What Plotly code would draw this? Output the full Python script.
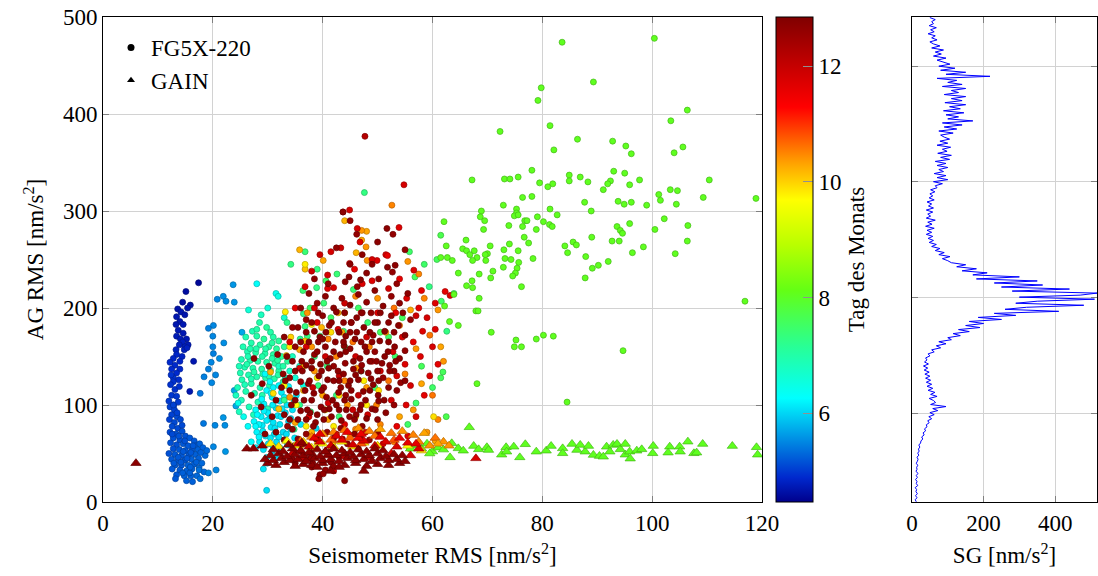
import plotly.graph_objects as go
import numpy as np

FONT = "Liberation Serif"
FS = 23

# ---------------- FG5X-220 circles: (seismometer RMS, AG RMS, day) ----------------
fg_blue_upper = [
    (17.4,226,4.55),(15.1,217,4.6),(14.5,206,4.6),(15.9,203,4.62),(15.4,200,4.65),(13.6,199,4.65),
    (14.2,196,4.7),(13.4,191,4.7),(14.9,193,4.68),(14.0,186,4.7),(14.6,183,4.72),(13.3,183,4.7),
    (13.7,177,4.72),(14.6,174,4.72),(13.4,171,4.75),(14.1,168,4.75),(15.2,168,4.72),(14.5,165,4.78),
    (15.5,162,4.75),(14.9,160,4.8),(13.9,162,4.78),(13.3,157,4.8),(14.8,157,4.8),(15.3,159,4.8),
    (14.4,150,4.82),(13.4,152,4.85),(12.8,148,4.85),(14.0,145,4.85),(16.5,145,4.7),(12.2,144,4.9),
    (13.1,141,4.9),(12.5,137,4.9),(14.0,137,4.88),(13.4,133,4.9),(12.8,128,4.95),(13.8,126,4.92),
    (12.8,124,4.95),(12.3,121,4.95),(13.1,116,4.95),(15.8,114,4.7),(12.5,110,4.98),(13.4,109,4.98),
    (12.0,104,5.0),(12.9,100,5.0),(13.7,103,5.0),(12.4,131,4.95),(13.9,119,4.95),
]
fg_blue_lower = [
    (12.2,98,5.05),(13.0,95,5.05),(12.5,90,5.05),(13.5,88,5.1),(12.1,85,5.05),(13.0,82,5.1),(14.1,85,5.1),
    (12.6,78,5.1),(13.6,76,5.1),(12.2,72,5.1),(13.3,70,5.15),(14.4,73,5.15),(15.0,68,5.15),(12.8,66,5.15),
    (14.0,64,5.15),(15.8,66,5.2),(16.6,63,5.2),(12.3,61,5.15),(13.4,59,5.15),(14.6,60,5.2),(15.5,58,5.2),
    (16.9,58,5.2),(17.6,60,5.25),(12.8,55,5.15),(13.9,54,5.2),(15.0,53,5.2),(16.2,53,5.2),(17.3,54,5.25),
    (18.2,56,5.25),(12.0,50,5.15),(13.1,49,5.2),(14.3,48,5.2),(15.6,48,5.2),(16.8,49,5.25),(12.5,44,5.2),
    (13.7,43,5.2),(14.9,43,5.2),(16.1,44,5.25),(17.4,45,5.25),(18.6,48,5.3),(13.1,38,5.2),(14.3,38,5.2),
    (15.5,38,5.25),(16.6,39,5.25),(12.6,34,5.2),(14.0,33,5.2),(15.2,32,5.25),(16.2,34,5.25),(17.5,35,5.3),
    (13.4,28,5.2),(14.8,27,5.25),(16.0,27,5.25),(15.2,22,5.25),(16.3,21,5.25),(13.2,24,5.2),(18.4,31,5.3),
    (17.1,27,5.3),(14.5,30,5.25),(15.8,30,5.25),(13.7,46,5.2),(12.9,40,5.2),(14.6,52,5.2),(15.3,45,5.2),
    (16.4,58,5.2),(14.9,63,5.15),(13.8,68,5.15),(12.6,70,5.1),(17.0,41,5.25),(15.9,36,5.25),(14.2,41,5.2),
    (13.5,92,5.05),(12.8,100,5.05),(14.4,79,5.1),(16.0,51,5.2),(17.8,51,5.25),(18.9,53,5.3),(18.0,40,5.3),
]
fg_lightblue = [
    (23.7,224,5.6),(20.8,209,5.5),(21.9,212,5.55),(22.4,207,5.55),(23.9,206,5.6),(20.1,182,5.5),
    (19.2,179,5.45),(22.0,164,5.55),(25.3,175,5.7),(20.0,171,5.5),(20.1,153,5.45),(19.7,144,5.5),
    (21.2,148,5.55),(19.2,137,5.45),(20.5,131,5.5),(19.8,123,5.5),(18.4,129,5.45),(17.7,112,5.4),
    (23.9,115,5.7),(24.2,99,5.7),(18.3,81,5.4),(20.4,79,5.5),(22.2,79,5.55),(20.1,57,5.5),(19.2,30,5.45),
    (20.6,33,5.5),(17.5,33,5.35),(17.7,24,5.35),(21.9,87,5.6),(22.3,52,5.6),(20.0,160,5.5),
]
fg_teal = [
    (28.5,185,7.0),(29.8,180,7.1),(27.2,176,6.9),(30.5,175,7.0),(26.0,170,6.9),(28.0,171,7.0),(29.3,168,7.1),
    (31.0,170,7.0),(32.0,166,7.1),(27.0,164,6.95),(25.5,160,6.9),(28.6,162,7.0),(30.2,160,7.05),(31.6,158,7.1),
    (33.0,160,7.1),(26.3,155,6.9),(27.8,154,7.0),(29.5,153,7.0),(31.0,152,7.05),(32.5,150,7.1),(25.2,147,6.9),
    (26.8,146,6.95),(28.2,145,7.0),(29.8,144,7.0),(31.3,143,7.05),(33.6,145,7.1),(25.8,139,6.9),(27.3,138,6.95),
    (28.9,137,7.0),(30.5,136,7.0),(32.0,135,7.05),(26.5,131,6.9),(28.0,129,6.95),(29.6,128,7.0),(31.2,127,7.0),
    (25.3,126,6.9),(27.0,122,6.95),(30.3,120,7.0),(32.8,124,7.05),(24.5,118,6.85),(26.0,114,6.9),(27.6,112,6.9),
    (29.0,110,6.95),(25.2,105,6.85),(28.2,103,6.9),(26.6,98,6.85),(30.0,96,6.9),(24.8,93,6.8),(27.4,90,6.85),
    (34.0,135,6.7),(35.0,128,6.6),(34.5,150,6.8),(35.8,140,6.7),(33.2,128,6.75),(34.8,105,6.6),(36.5,120,6.5),
    (32.0,140,6.8),(26.4,150,6.9),(27.9,158,6.95),(29.1,132,7.0),(30.8,148,7.0),(25.0,133,6.9),(24.2,110,6.8),
    (28.0,225,6.3),(31.5,215,6.4),(31.9,212,6.5),(26.5,198,6.6),(28.8,193,6.8),(33.0,190,6.7),(30.0,200,6.6),
    (26.2,142,6.95),(27.5,134,7.0),(29.0,150,7.0),(30.2,130,6.95),(31.8,146,7.05),(27.0,127,6.9),(28.6,118,6.9),
    (25.8,121,6.85),(30.8,164,7.05),(28.0,178,7.0),(26.8,158,6.95),(29.6,158,7.0),(32.8,140,7.0),(24.8,140,6.85),
    (31.9,131,7.0),
]
fg_cyan = [
    (29.5,132,6.3),(31.0,118,6.2),(32.5,113,6.15),(33.8,119,6.2),(29.8,115,6.25),(30.8,108,6.15),(32.2,104,6.1),
    (33.5,100,6.1),(29.3,101,6.2),(31.5,97,6.1),(27.8,95,6.3),(28.8,88,6.2),(30.3,86,6.1),(31.8,89,6.1),
    (33.2,92,6.05),(34.5,95,6.1),(27.5,83,6.25),(29.0,79,6.15),(30.6,77,6.1),(32.2,80,6.1),(33.8,83,6.05),
    (28.0,72,6.2),(29.6,68,6.15),(31.2,70,6.1),(32.8,72,6.05),(34.2,75,6.1),(28.5,62,6.15),(30.1,60,6.1),
    (31.6,62,6.05),(33.0,64,6.1),(29.2,54,6.1),(30.8,52,6.05),(32.2,56,6.1),(27.8,56,6.2),(31.5,45,6.05),
    (29.8,46,6.1),(29.2,34,6.1),(29.8,12,6.05),(34.9,66,6.1),(36.0,80,6.1),(38.8,76,6.05),(35.2,110,6.15),
    (26.4,78,6.3),(25.6,88,6.4),(24.6,102,6.45),(27.0,62,6.3),(28.4,80,6.2),(30.0,92,6.15),(31.0,82,6.1),
    (32.6,96,6.1),(28.9,106,6.25),(30.4,124,6.3),(33.0,108,6.15),
    (29.3,94,6.2),(30.9,100,6.15),(32.4,88,6.1),(28.1,90,6.25),(29.8,84,6.15),(31.3,76,6.1),(27.8,78,6.25),
    (33.4,70,6.05),(29.1,73,6.15),(30.5,66,6.1),(32.0,67,6.1),(28.4,67,6.2),(31.0,57,6.05),(33.6,59,6.05),
    (29.9,40,6.1),(30.6,112,6.2),(32.0,120,6.25),(34.2,86,6.1),
]
fg_green_scatter = [
    (34.2,245,7.3),(36.4,218,7.4),(38.9,221,7.3),(40.6,228,7.5),(42.6,235,7.4),(36.5,194,7.3),(37.7,200,7.5),
    (36.8,181,7.3),(45.6,219,7.4),(35.9,168,7.2),(37.2,171,7.3),(39.5,171,7.4),(37.8,93,7.3),(45.1,69,7.5),
    (33.5,185,7.2),(40.2,205,7.4),(41.5,190,7.5),(43.8,176,7.4),(46.5,200,7.5),(48.2,185,7.4),(50.5,175,7.6),
    (38.5,150,7.3),(40.8,140,7.4),(44.0,160,7.5),(52.0,170,7.5),(54.5,190,7.6),(47.6,319,7.3),(59.4,222,7.3),
    (63.9,215,7.5),(56.8,232,7.6),(58.5,245,7.5),(60.8,250,7.6),(61.5,275,7.7),(55.8,258,7.5),(42.5,110,7.3),
    (35.8,100,7.2),(39.2,120,7.3),(47.0,135,7.4),(53.2,150,7.5),(58.0,140,7.6),(60.0,118,7.5),(61.5,128,7.6),
    (57.0,102,7.5),(62.5,88,7.7),(55.5,80,7.5),(33.0,105,7.2),(34.8,75,7.2),(43.0,88,7.4),(49.5,118,7.4),
    (36.8,258,7.4),(39.0,240,7.3),(61.6,207,7.5),(62.6,176,7.3),(61.9,134,7.6),
]
fg_orange = [
    (52.6,306,10.5),(47.1,270,10.3),(47.9,263,10.4),(46.1,257,10.2),(48.1,249,10.4),(40.1,249,10.3),(36.8,240,10.1),
    (48.0,279,10.3),(47.1,280,10.4),(35.8,260,10.2),(34.2,170,10.0),(36.8,166,10.1),(35.8,157,10.3),(33.4,151,10.2),
    (38.0,160,10.4),(41.0,168,10.5),(43.5,175,10.3),(45.5,165,10.6),(39.8,180,10.2),(37.2,195,10.4),(42.8,195,10.3),
    (46.0,212,10.5),(50.0,210,10.4),(53.0,200,10.6),(56.0,198,10.3),(58.5,210,10.5),(61.0,198,10.4),(59.5,172,10.6),
    (61.5,160,10.3),(57.0,158,10.4),(55.0,132,10.5),(58.0,122,10.3),(60.0,110,10.6),(56.5,95,10.4),(54.0,88,10.3),
    (50.5,80,10.5),(48.0,118,10.4),(52.0,125,10.6),(44.0,125,10.5),(40.0,110,10.3),(36.5,115,10.2),(34.0,108,10.4),
    (32.0,96,10.1),(35.0,82,10.3),(38.0,72,10.2),(42.0,62,10.4),(46.0,75,10.5),(50.0,58,10.3),(53.0,62,10.6),
    (44.5,100,10.4),(48.5,160,10.5),(51.5,175,10.3),(54.0,182,10.6),(57.5,235,10.5),(55.5,248,10.4),(44.0,290,10.2),
    (62.0,145,10.4),(61.0,85,10.5),(59.0,72,10.4),(60.5,63,10.3),(55.8,55,10.2),(30.5,134,10.2),(38.5,135,10.4),
    (42.5,150,10.5),(46.2,138,10.4),(49.8,100,10.5),(41.0,85,10.3),(36.0,58,10.2),
]
fg_yellow = [
    (34.0,160,9.8),(33.0,120,9.7),(36.5,140,9.9),(39.0,128,9.8),(35.2,100,9.7),(37.0,78,9.8),(41.5,175,9.9),
    (44.0,195,9.8),(40.5,95,9.7),(43.0,110,9.9),(47.5,125,9.8),(46.0,88,9.9),(38.0,183,9.7),(33.2,196,9.8),
    (36.8,245,9.8),(50.2,115,9.9),(42.0,78,9.8),(39.0,60,9.7),(45.0,68,9.9),(31.0,112,9.9),(48.0,100,9.8),
    (60.2,88,9.9),
]
fg_red = [
    (47.7,377,12.2),(54.8,327,11.8),(43.7,299,12.0),(44.9,301,11.8),(46.3,282,11.8),(53.9,283,11.7),(43.3,262,11.9),
    (49.9,249,11.7),(51.5,255,11.8),(51.8,254,11.6),(44.9,246,11.7),(40.9,234,11.8),(40.9,220,11.7),(42.0,221,11.8),
    (56.6,239,11.7),(62.3,217,11.6),(63.2,213,11.7),(47.2,225,11.7),(38.0,238,11.9),(41.5,258,11.8),(45.8,240,11.6),
    (49.0,228,11.7),(52.0,220,11.8),(55.3,210,11.7),(57.5,200,11.6),(59.0,190,11.8),(58.2,176,11.7),(56.5,165,11.6),
    (60.0,160,11.8),(57.8,150,11.7),(61.0,142,11.6),(59.5,130,11.7),(56.0,120,11.8),(58.5,110,11.6),(55.2,100,11.7),
    (57.0,88,11.8),(53.5,78,11.6),(55.5,68,11.7),(51.0,60,11.8),(48.2,90,11.9),(46.5,110,12.0),(50.5,135,11.9),
    (52.8,155,11.8),(48.0,170,11.9),(45.2,185,11.8),(42.8,178,11.9),(39.0,185,11.7),(37.0,160,11.8),(35.8,138,11.7),
    (38.2,118,11.9),(41.0,102,11.8),(44.0,80,11.7),(47.8,72,11.8),(42.5,70,11.9),(39.0,66,11.8),(37.5,88,11.7),
    (35.0,200,11.6),(34.0,165,11.7),(36.8,222,11.8),(50.0,195,11.7),(53.3,195,11.6),(54.5,170,11.8),(57.0,192,11.9),
    (60.5,205,11.7),(46.0,150,11.9),(43.0,130,12.0),(49.0,145,11.9),(53.5,130,11.8),(55.0,142,11.7),(52.5,105,11.8),
    (45.5,95,11.9),(40.5,150,11.9),(38.5,200,11.8),(44.0,205,11.9),(47.0,195,11.7),(58.0,218,11.6),(60.5,178,11.7),
    (54.0,230,11.6),(49.0,250,11.8),(46.8,268,11.7),(39.5,255,11.9),(42.0,32,11.8),
]
fg_darkred = [
    (42.5,262,12.6),(47.2,255,12.7),(51.8,242,12.7),(52.7,237,12.6),(53.2,244,12.7),(46.2,276,12.6),(51.7,282,12.7),
    (52.8,276,12.6),(44.1,227,12.7),(46.9,229,12.7),(46.3,222,12.6),(48.0,236,12.7),(55.0,260,12.6),(50.0,268,12.7),
    (45.0,290,12.6),(43.7,299,12.7),
    (37.5,215,12.7),(39.0,205,12.6),(40.5,212,12.7),(42.0,200,12.7),(43.5,210,12.6),(45.0,203,12.7),(46.5,214,12.7),
    (48.0,206,12.6),(49.5,218,12.7),(51.0,202,12.7),(52.5,212,12.6),(54.0,205,12.7),(55.5,215,12.7),(41.0,225,12.6),
    (44.8,232,12.7),(50.2,230,12.7),(53.5,225,12.6),(38.5,230,12.7),
    (35.5,180,12.7),(37.0,188,12.6),(38.5,176,12.7),(40.0,192,12.7),(41.2,182,12.6),(42.5,196,12.7),(43.8,185,12.7),
    (45.0,175,12.6),(46.2,190,12.7),(47.5,180,12.7),(48.8,195,12.6),(50.0,185,12.7),(51.3,176,12.7),(52.5,192,12.6),
    (53.8,182,12.7),(55.0,172,12.7),(56.0,188,12.6),(39.5,170,12.7),(44.2,171,12.7),(49.2,172,12.6),
    (33.5,150,12.7),(35.0,160,12.6),(36.2,145,12.7),(37.5,165,12.7),(38.5,152,12.6),(39.6,142,12.7),(40.5,160,12.7),
    (41.4,148,12.6),(42.3,165,12.7),(43.2,152,12.7),(44.1,143,12.6),(45.0,158,12.7),(45.9,168,12.7),(46.8,148,12.6),
    (47.7,160,12.7),(48.6,145,12.7),(49.5,155,12.6),(50.4,166,12.7),(51.3,150,12.7),(52.2,141,12.6),(53.1,160,12.7),
    (54.0,148,12.7),(55.0,156,12.6),(40.0,168,12.7),(43.9,161,12.7),(47.1,141,12.6),(50.8,143,12.7),(37.0,141,12.7),
    (42.0,140,12.6),
    (32.5,118,12.7),(34.0,128,12.6),(35.2,113,12.7),(36.3,135,12.7),(37.4,122,12.6),(38.4,112,12.7),(39.3,130,12.7),
    (40.2,118,12.6),(41.1,138,12.7),(42.0,125,12.7),(42.9,113,12.6),(43.8,132,12.7),(44.7,120,12.7),(45.6,137,12.6),
    (46.5,126,12.7),(47.4,114,12.7),(48.3,133,12.6),(49.2,121,12.7),(50.1,110,12.7),(51.0,128,12.6),(52.0,118,12.7),
    (53.0,135,12.7),(54.2,123,12.6),(38.0,138,12.7),(40.9,126,12.7),(44.2,110,12.6),(46.0,131,12.7),(48.8,127,12.7),
    (36.0,124,12.6),(43.3,118,12.7),
    (33.0,90,12.7),(34.3,100,12.6),(35.5,85,12.7),(36.6,105,12.7),(37.7,92,12.6),(38.7,82,12.7),(39.7,98,12.7),
    (40.7,108,12.6),(41.6,88,12.7),(42.5,100,12.7),(43.4,84,12.6),(44.3,95,12.7),(45.2,106,12.7),(46.1,90,12.6),
    (47.0,100,12.7),(48.0,86,12.7),(49.0,96,12.6),(50.2,104,12.7),(51.5,92,12.7),(53.0,100,12.6),(36.0,94,12.7),
    (39.0,90,12.7),(44.9,88,12.6),(41.2,96,12.7),
    (31.5,72,12.7),(33.0,64,12.6),(34.5,75,12.7),(35.8,60,12.7),(37.0,70,12.6),(38.3,78,12.7),(39.5,62,12.7),
    (40.8,72,12.6),(42.0,66,12.7),(43.3,76,12.7),(44.5,60,12.6),(45.8,70,12.7),(47.2,78,12.7),(48.5,64,12.6),
    (50.0,72,12.7),(36.0,52,12.7),(41.5,55,12.6),(46.5,55,12.7),
    (38.0,36,12.7),(39.5,28,12.6),(41.5,41,12.7),(44.0,22,12.7),(40.5,33,12.6),(43.0,46,12.7),(34.5,44,12.7),
    (39.3,24,12.7),(40.1,29,12.6),(38.2,40,12.7),
    (27.5,148,12.7),(29.0,122,12.6),(30.2,140,12.7),(31.5,105,12.7),(32.8,132,12.6),(28.8,98,12.7),(30.8,88,12.7),
    (33.6,78,12.6),(29.5,70,12.7),(34.8,58,12.7),(31.8,152,12.6),(27.0,110,12.7),(33.0,170,12.7),(34.5,180,12.6),
    (36.0,200,12.7),(36.5,60,12.7),(37.8,45,12.6),(35.0,40,12.7),
]
fg_darkred_core = [
    (37.2,95),(40.3,95),(43.0,95),(46.8,95),(49.6,95),(35.0,105),(38.0,105),(41.8,105),(44.0,105),(47.8,105),
    (51.2,105),(34.0,115),(36.8,115),(39.8,115),(45.2,115),(48.6,115),(53.5,115),(33.2,125),(37.6,125),(43.0,125),
    (45.0,125),(50.2,125),(55.0,125),(35.0,135),(39.8,135),(42.8,135),(47.0,135),(50.0,135),(52.2,135),(34.5,145),
    (38.0,145),(40.8,145),(45.6,145),(49.8,145),(53.3,145),(36.5,155),(39.0,155),(42.0,155),(44.2,155),(48.0,155),
    (51.9,155),(36.0,165),(39.2,165),(43.8,165),(47.0,165),(49.0,165),(52.0,165),(37.0,175),(40.6,175),(43.0,175),
    (46.2,175),(48.6,175),(53.0,175),(38.0,185),(41.6,185),(45.2,185),(49.5,185),(52.0,185),(39.2,195),(44.0,195),
    (47.2,195),(50.5,195),(54.6,195),(34.0,85),(37.0,85),(40.2,85),(45.8,85),(50.0,85),(35.5,65),(38.8,65),
    (43.6,65),(47.0,65),(45.0,245),(49.0,245),
]
darkred_core_day = 12.7
fg_green_cluster = [
    (83.6,474),(100.4,478),(79.8,427),(89.3,433),(79.2,414),(106.4,404),(103.4,393),(72.3,382),(81.4,388),
    (86.4,374),(92.8,372),(95.2,367),(96.2,359),(105.6,366),(104.0,360),(82.1,363),(67.2,332),(73.1,333),
    (74.1,333),(75.6,335),(78.1,342),(79.5,329),(81.0,325),(81.9,328),(84.9,337),(84.9,331),(86.9,335),
    (88.3,330),(93.0,341),(95.0,339),(92.4,331),(91.9,328),(91.1,322),(95.9,327),(97.7,332),(110.4,332),
    (118.9,313),(109.3,314),(103.3,322),(104.6,321),(101.2,317),(101.5,311),(104.4,307),(99.0,306),(96.2,309),
    (94.9,307),(93.8,310),(87.7,309),(88.9,300),(81.4,302),(82.7,296),(78.1,315),(76.4,314),(72.9,306),
    (75.3,302),(75.3,298),(74.9,295),(75.6,296),(68.9,300),(68.7,294),(69.5,290),(69.3,281),(62.1,289),
    (73.9,285),(76.8,290),(77.2,290),(76.4,284),(79.1,294),(78.9,281),(80.2,289),(81.3,286),(81.8,284),
    (78.3,251),(76.7,273),(77.5,267),(74.0,266),(73.0,260),(73.2,251),(74.3,250),(75.6,259),(75.7,247),
    (75.4,241),(75.1,236),(74.6,233),(72.9,242),(76.2,222),(70.5,264),(70.0,256),(69.7,249),(69.6,255),
    (71.0,238),(70.6,231),(68.5,235),(68.5,210),(66.1,270),(65.5,261),(66.2,259),(66.8,255),(67.6,259),
    (68.1,252),(67.3,249),(62.5,264),(61.5,252),(62.7,252),(63.6,249),(64.7,236),(66.2,223),(67.3,221),
    (67.2,228),(63.9,214),(62.2,202),(67.9,197),(68.3,197),(63.1,186),(64.7,182),(70.7,175),(75.2,167),
    (74.9,160),(76.2,160),(78.9,168),(80.2,172),(82.0,171),(84.1,264),(84.6,257),(85.6,268),(86.2,265),
    (87.9,253),(89.1,241),(90.2,244),(92.0,248),(87.8,231),(89.0,273),(92.7,269),(94.0,269),(93.6,284),
    (94.2,280),(94.6,277),(95.9,287),(96.4,257),(98.4,263),(100.5,281),(102.2,292),(106.5,285),(106.4,269),
    (104.2,256),(94.7,156),(116.9,207),(84.5,103),(68.1,122),
]
green_cluster_day = 8.05

# ---------------- GAIN triangles: (seismometer RMS, AG RMS, day) ----------------
gain_darkred = [
    (30.0,40),(31.5,38),(33.0,41),(35.0,37),(36.5,39),(38.0,38),(40.0,40),(42.0,37),(44.0,38),(46.0,40),
    (48.0,37),(50.0,39),(52.0,38),(54.0,40),(39.0,36),(43.0,36),(41.5,32),(47.5,32),
    (29.5,44),(31.0,43),(32.5,45),(34.0,43),(35.5,44),(37.0,42),(38.5,45),(40.0,43),(41.5,44),(43.0,42),
    (44.5,45),(46.0,43),(47.5,44),(49.0,42),(50.5,45),(52.0,43),(53.5,44),(55.0,42),
    (30.5,48),(32.0,50),(33.5,47),(35.0,49),(36.5,48),(38.0,50),(39.5,47),(41.0,49),(42.5,48),(44.0,50),
    (45.5,47),(47.0,49),(48.5,48),(50.0,50),(51.5,47),(53.0,49),(54.5,48),
    (31.0,54),(32.8,52),(34.5,55),(36.0,53),(37.5,51),(39.0,54),(40.5,52),(42.0,55),(43.5,53),(45.0,51),
    (46.5,54),(48.0,52),(49.5,55),(51.0,53),
    (6.0,40),(26.2,55),(27.4,55),(33.8,59),(36.2,61),(29.0,58),
]
gain_darkred_day = 12.7
gain_red = [
    (35.5,60,11.8),(37.5,57,11.9),(39.5,62,11.7),(41.5,58,11.8),(43.5,64,11.6),(45.5,59,11.8),(47.5,63,11.7),
    (49.5,58,11.9),(51.5,62,11.7),(53.5,57,11.8),(55.5,61,11.6),(57.5,55,11.7),(38.5,66,11.6),(42.5,68,11.7),
    (46.5,66,11.5),(50.5,67,11.6),(44.5,72,11.5),(40.5,52,12.0),(44.0,47,12.1),(48.5,46,12.0),(52.5,50,11.9),
    (56.0,48,11.8),(34.5,50,12.0),(36.5,45,12.1),(54.0,66,11.6),(41.0,48,12.1),(57.0,60,11.6),(67.9,45,11.8),
    (47.0,70,11.5),(39.5,70,11.6),
]
gain_orange = [
    (36.0,63,10.6),(38.0,67,10.5),(40.0,70,10.4),(42.0,72,10.5),(44.0,74,10.6),(46.5,76,10.4),(48.5,73,10.5),
    (50.5,75,10.3),(52.5,71,10.6),(54.5,73,10.4),(56.5,69,10.5),(58.5,71,10.3),(60.5,66,10.6),(62.0,62,10.4),
    (45.0,66,10.7),(49.5,68,10.6),(53.0,64,10.8),(57.5,62,10.5),(59.5,58,10.4),(41.5,64,10.7),(47.0,60,10.8),
    (61.0,60,10.3),(63.0,58,10.4),
]
gain_yellow = [
    (30.5,60,9.8),(32.0,57,9.9),(33.5,63,9.7),(35.0,58,9.8),(36.5,62,9.9),(38.0,56,9.8),(40.0,60,9.7),
    (42.0,57,9.9),(43.5,62,9.8),(45.5,57,9.9),(47.5,61,9.8),(50.0,58,9.9),(55.5,58,9.7),(58.0,53,9.9),
]
gain_green = [
    (63.5,60.5),(64.7,55.3),(65.6,52.9),(63.2,46.0),(67.5,57.7),(68.4,54.3),(69.9,56.4),(70.2,53.6),(72.6,48.8),
    (73.4,56.4),(73.5,51.9),(74.8,57.0),(75.9,46.0),(76.9,59.5),(78.9,51.9),(80.7,52.9),(81.6,57.7),(83.7,55.3),
    (83.7,50.2),(85.4,59.8),(86.3,53.6),(86.9,58.8),(87.8,51.9),(88.4,57.7),(89.3,48.5),(90.4,47.4),(91.1,46.7),
    (91.7,57.0),(92.3,51.9),(92.9,58.8),(93.6,59.8),(94.2,54.3),(95.1,59.8),(95.1,48.8),(95.9,51.9),(96.0,44.7),
    (97.2,52.9),(98.1,54.3),(100.2,57.7),(100.1,50.2),(103.2,57.0),(102.9,50.9),(105.0,57.0),(105.1,51.9),
    (106.5,62.2),(107.6,50.2),(108.1,50.9),(109.2,59.8),(114.6,57.7),(119.0,56.4),(119.2,48.8),(66.7,77.0),
    (57.0,58),(58.0,55),(59.0,60),(60.0,52),(61.0,56),(62.0,54),(56.0,55),(59.5,50),
]
gain_green_day = 8.05

# ---------------- SG RMS (nm/s^2) versus day, sampled evenly from day 4.47 to 12.84 ----------------
sg_day_first, sg_day_last = 4.47, 12.84
sg_values = [
    12,9,14,10,15,11,13,9,16,12,14,10,15,12,17,11,14,13,16,12,15,
    17,14,19,16,20,18,22,19,24,
    25,30,27,34,31,38,35,42,
    40,48,44,55,47,62,50,72,58,95,52,66,
    60,48,70,52,64,45,58,42,55,40,52,38,50,
    36,48,34,44,32,46,35,42,38,50,
    45,62,55,80,68,95,75,110,
    100,135,115,160,130,190,150,
    200,160,250,185,290,230,410,260,
    320,480,290,350,510,300,470,517,
    280,440,250,365,230,350,180,300,
    170,210,140,180,125,150,110,
    100,85,106,75,90,65,78,
    55,68,48,60,45,58,40,55,42,62,38,56,44,65,40,
    52,44,58,40,60,46,55,42,62,48,58,50,64,52,70,
    65,85,60,100,70,95,62,88,75,100,
    70,95,65,105,80,110,72,98,85,108,70,100,78,105,90,
    80,115,75,125,90,140,85,170,100,130,95,145,88,135,105,150,92,140,110,150,
    90,130,110,150,85,140,100,125,70,218,
    95,150,80,120,75,106,85,
    70,95,60,82,65,88,55,78,60,
    50,70,55,65,45,62,52,68,48,60,55,65,50,
]

x_ticks = [0, 20, 40, 60, 80, 100, 120]
y_ticks = [0, 100, 200, 300, 400, 500]
day_ticks = [6, 8, 10, 12]
sg_ticks = [0, 200, 400]
day_min, day_max = 4.466, 12.85

# ---------------- colour map ----------------
cstops = [(0.0,(0,0,140)),(0.05,(0,40,205)),(0.12,(0,130,225)),(0.214,(0,255,255)),(0.32,(40,255,150)),
          (0.437,(100,255,20)),(0.53,(185,255,0)),(0.623,(255,255,0)),(0.70,(255,160,0)),(0.814,(255,0,0)),
          (1.0,(128,0,0))]
colorscale = [[p, "rgb(%d,%d,%d)" % c] for p, c in cstops]

def day_rgb(d):
    f = min(max((d - day_min) / (day_max - day_min), 0), 1)
    for (p0, c0), (p1, c1) in zip(cstops[:-1], cstops[1:]):
        if p0 <= f <= p1:
            t = (f - p0) / (p1 - p0) if p1 > p0 else 0
            return [c0[i] + t * (c1[i] - c0[i]) for i in range(3)]
    return list(cstops[-1][1])

def edge(d):
    r, g, b = day_rgb(d)
    return "rgb(%d,%d,%d)" % (r * 0.72, g * 0.72, b * 0.72)

circle_groups = [fg_blue_upper, fg_blue_lower, fg_lightblue, fg_teal, fg_cyan, fg_green_scatter,
                 fg_orange, fg_yellow, fg_red, fg_darkred,
                 [(x, y, darkred_core_day) for x, y in fg_darkred_core],
                 [(x, y, green_cluster_day) for x, y in fg_green_cluster]]
cx, cy, cd = [], [], []
for g in circle_groups:
    for x, y, d in g:
        cx.append(x); cy.append(y); cd.append(d)

tri_groups = [[(x, y, gain_green_day) for x, y in gain_green], gain_yellow, gain_orange, gain_red,
              [(x, y, gain_darkred_day) for x, y in gain_darkred]]
tx, ty, td = [], [], []
for g in tri_groups:
    for x, y, d in g:
        tx.append(x); ty.append(y); td.append(d)

sg_days = np.linspace(sg_day_first, sg_day_last, len(sg_values))

# the page body margin is removed (post_script below), so figure pixels = window pixels
W, H = 1098, 576
ML, MT = 103, 17
MB = H - 502
MR = W - 1097
PW = W - ML - MR
PH = H - MT - MB

def fx(px):   # window pixel -> plot-area fraction
    return (px - ML) / PW

def fy(py):
    return 1 - (py - MT) / PH

fig = go.Figure()
fig.add_trace(go.Scatter(
    x=cx, y=cy, mode="markers", showlegend=False, xaxis="x", yaxis="y",
    marker=dict(symbol="circle", size=6, color=cd, colorscale=colorscale, cmin=day_min, cmax=day_max,
                line=dict(width=0.7, color=[edge(d) for d in cd]),
                showscale=True,
                colorbar=dict(x=fx(776), xanchor="left", y=0, yanchor="bottom", len=1, lenmode="fraction",
                              thickness=37, thicknessmode="pixels", xpad=0, ypad=0,
                              outlinewidth=1, outlinecolor="black",
                              tickvals=day_ticks, ticks="inside", ticklen=10, tickcolor="#909090",
                              tickfont=dict(family=FONT, size=FS, color="black"),
                              title=dict(text="Tag des Monats", side="right",
                                         font=dict(family=FONT, size=FS, color="black"))))))
fig.add_trace(go.Scatter(
    x=tx, y=ty, mode="markers", showlegend=False, xaxis="x", yaxis="y",
    marker=dict(symbol="triangle-up", size=9, color=td, colorscale=colorscale, cmin=day_min, cmax=day_max,
                line=dict(width=0.7, color=[edge(d) for d in td]), showscale=False)))
fig.add_trace(go.Scatter(
    x=sg_values, y=sg_days, mode="lines", showlegend=False, xaxis="x2", yaxis="y2",
    line=dict(color="rgb(0,0,255)", width=1)))
fig.add_trace(go.Scatter(x=[None], y=[None], mode="markers", name="FG5X-220", legendgroup="a",
                         marker=dict(symbol="circle", size=7, color="black")))
fig.add_trace(go.Scatter(x=[None], y=[None], mode="markers", name="GAIN", legendgroup="b",
                         marker=dict(symbol="triangle-up", size=7, color="black")))

tickfont = dict(family=FONT, size=FS, color="black")
titlefont = dict(family=FONT, size=FS, color="black")
common = dict(showline=True, linecolor="black", linewidth=1, mirror="ticks", ticks="inside", ticklen=6,
              tickcolor="#808080", showgrid=True, gridcolor="#d2d2d2", gridwidth=1, zeroline=False,
              tickfont=tickfont, automargin=False, ticklabeloverflow="allow")

fig.update_layout(
    width=W, height=H, margin=dict(l=ML, r=MR, t=MT, b=MB),
    paper_bgcolor="white", plot_bgcolor="white",
    font=dict(family=FONT, size=FS, color="black"),
    xaxis=dict(domain=[0, fx(762)], range=[0, 120], tickvals=x_ticks,
               title=dict(text="Seismometer RMS [nm/s<sup>2</sup>]", font=titlefont, standoff=12), **common),
    yaxis=dict(domain=[0, 1], range=[0, 500], tickvals=y_ticks,
               title=dict(text="AG RMS [nm/s<sup>2</sup>]", font=titlefont, standoff=12), **common),
    xaxis2=dict(domain=[fx(912), 1], range=[0, 517], tickvals=sg_ticks, anchor="y2",
                title=dict(text="SG [nm/s<sup>2</sup>]", font=titlefont, standoff=12), **common),
    yaxis2=dict(domain=[0, 1], range=[day_min, day_max], tickvals=day_ticks, anchor="x2",
                showticklabels=False, **common),
    legend=dict(x=fx(111), y=fy(26), xanchor="left", yanchor="top", bgcolor="rgba(0,0,0,0)",
                font=dict(family=FONT, size=FS, color="black"), tracegroupgap=0, itemwidth=30),
)

fig.write_html("out.html", config={"displayModeBar": False},
               post_script="document.body.style.margin='0';document.body.style.overflow='hidden';")
